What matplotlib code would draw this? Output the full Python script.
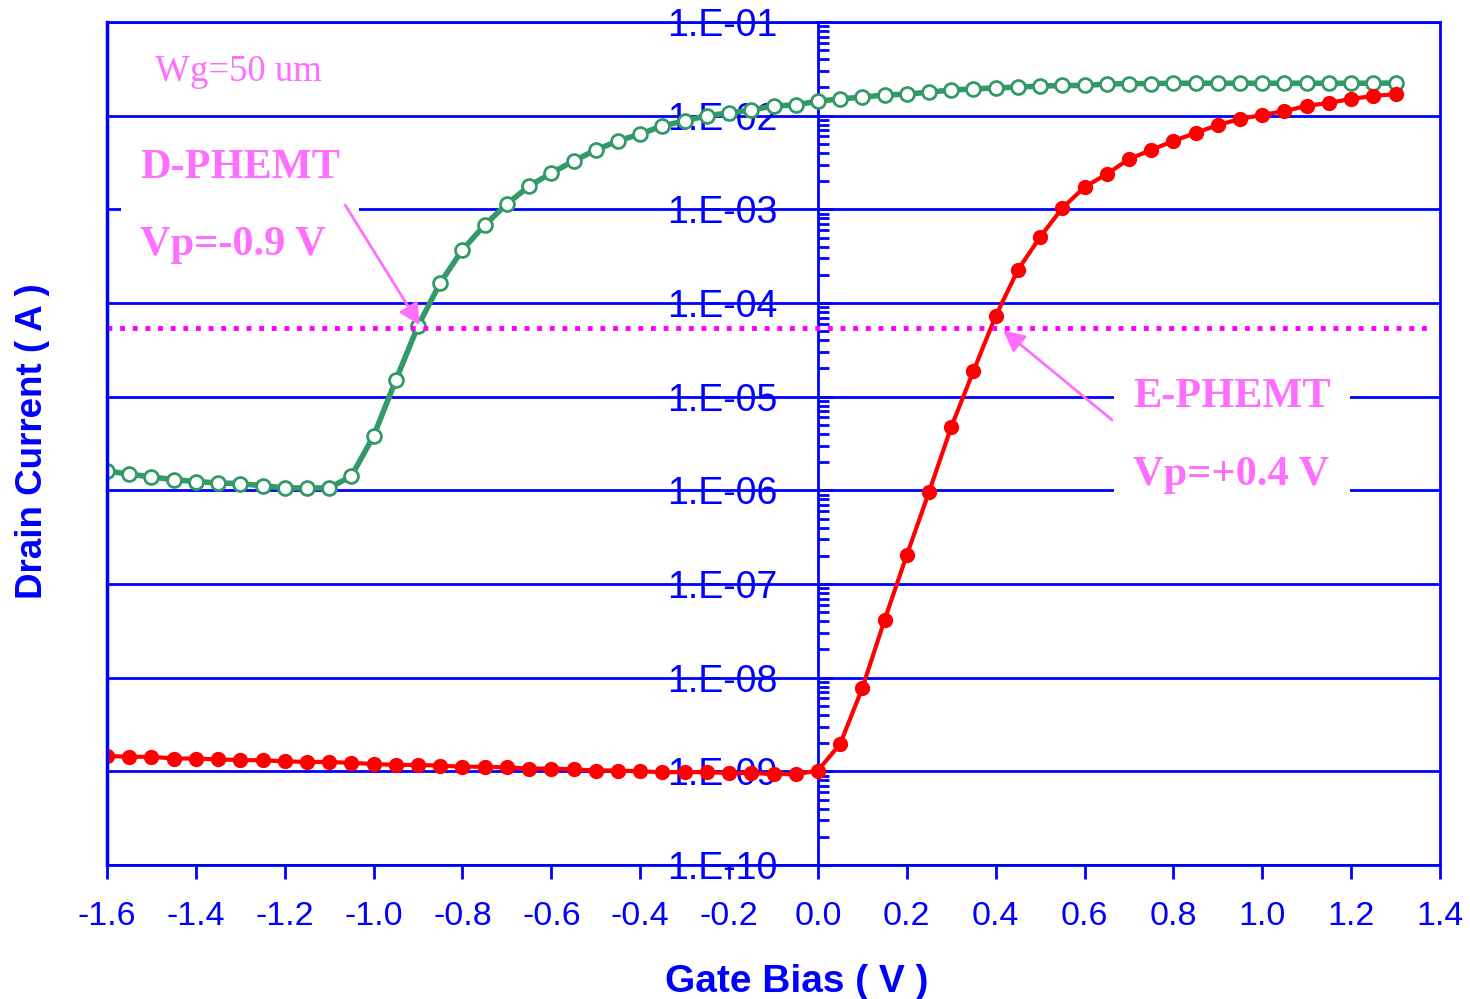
import numpy as np
import matplotlib
matplotlib.use("Agg")
import matplotlib.pyplot as plt
from matplotlib.ticker import FixedLocator, FuncFormatter, LogLocator, NullFormatter

# ---------------- data ----------------
gate_bias = [round(-1.6 + 0.05 * i, 2) for i in range(59)]  # -1.60 ... 1.30

d_phemt = [1.61e-6, 1.49e-6, 1.39e-6, 1.30e-6, 1.24e-6, 1.20e-6, 1.18e-6, 1.12e-6,
           1.06e-6, 1.06e-6, 1.06e-6, 1.42e-6, 3.8e-6, 1.5e-5, 5.7e-5, 1.64e-4,
           3.7e-4, 6.8e-4, 1.14e-3, 1.77e-3, 2.44e-3, 3.28e-3, 4.3e-3, 5.37e-3,
           6.37e-3, 7.76e-3, 8.8e-3, 1.0e-2, 1.07e-2, 1.15e-2, 1.27e-2, 1.3e-2,
           1.43e-2, 1.51e-2, 1.58e-2, 1.66e-2, 1.70e-2, 1.78e-2, 1.88e-2, 1.93e-2,
           1.98e-2, 2.02e-2, 2.07e-2, 2.10e-2, 2.10e-2, 2.18e-2, 2.20e-2, 2.20e-2,
           2.22e-2, 2.22e-2, 2.22e-2, 2.22e-2, 2.22e-2, 2.22e-2, 2.22e-2, 2.22e-2,
           2.22e-2, 2.22e-2, 2.23e-2]

e_phemt = [1.46e-9, 1.43e-9, 1.43e-9, 1.37e-9, 1.37e-9, 1.34e-9, 1.32e-9, 1.31e-9,
           1.28e-9, 1.26e-9, 1.26e-9, 1.23e-9, 1.20e-9, 1.17e-9, 1.17e-9, 1.15e-9,
           1.12e-9, 1.12e-9, 1.10e-9, 1.07e-9, 1.07e-9, 1.05e-9, 1.02e-9, 1.02e-9,
           1.00e-9, 0.98e-9, 0.98e-9, 0.98e-9, 0.96e-9, 0.96e-9, 0.94e-9, 0.93e-9,
           1.02e-9, 1.96e-9, 7.76e-9, 4.13e-8, 2.04e-7, 9.6e-7, 4.74e-6, 1.88e-5,
           7.26e-5, 2.25e-4, 5.07e-4, 1.03e-3, 1.73e-3, 2.38e-3, 3.44e-3, 4.3e-3,
           5.37e-3, 6.53e-3, 7.95e-3, 9.2e-3, 1.02e-2, 1.12e-2, 1.27e-2, 1.37e-2,
           1.51e-2, 1.62e-2, 1.70e-2]

pinch_current = 5.4e-5
x_ticks = [-1.6, -1.4, -1.2, -1.0, -0.8, -0.6, -0.4, -0.2, 0.0, 0.2, 0.4, 0.6, 0.8, 1.0, 1.2, 1.4]
y_decades = [1e-10, 1e-9, 1e-8, 1e-7, 1e-6, 1e-5, 1e-4, 1e-3, 1e-2, 1e-1]

label_wg = "Wg=50 um"
label_d = "D-PHEMT\nVp=-0.9 V"
label_e = "E-PHEMT\nVp=+0.4 V"

# ---------------- style ----------------
BLUE = "#0000FF"
GREEN = "#339966"
RED = "#FF0000"
PINK = "#FF6FFF"
MAGENTA = "#FF00FF"

fig = plt.figure(figsize=(14.7, 9.99), dpi=100)
ax = fig.add_axes([107 / 1470, 1 - 865 / 999, (1440 - 107) / 1470, (865 - 22) / 999])

ax.set_yscale("log")
ax.set_xlim(-1.6, 1.4)
ax.set_ylim(1e-10, 1e-1)

# grid
ax.yaxis.grid(True, which="major", color=BLUE, lw=2, zorder=0)
ax.xaxis.grid(False)
ax.set_axisbelow(True)

# data
ax.plot(gate_bias, d_phemt, color=GREEN, lw=4, marker="o", ms=10, mfc="white",
        mec=GREEN, mew=2, zorder=3)
ax.plot(gate_bias, e_phemt, color=RED, lw=3, marker="o", ms=10, mfc=RED,
        mec=RED, zorder=3)

# pinch-off dotted line
ax.plot([-1.6, 1.38], [pinch_current, pinch_current], color=MAGENTA, lw=3.5,
        ls=(0, (1, 1.6)), zorder=4)

# spines
for s in ax.spines.values():
    s.set_color(BLUE)
    s.set_linewidth(2)
ax.spines["left"].set_position(("data", 0))
ax.axvline(-1.6, color=BLUE, lw=2.5, zorder=5, clip_on=False)

ax.yaxis.set_major_locator(FixedLocator(y_decades))
ax.yaxis.set_minor_locator(LogLocator(base=10, subs=np.arange(2, 10), numticks=20))
ax.yaxis.set_minor_formatter(NullFormatter())
ax.yaxis.set_major_formatter(FuncFormatter(lambda v, p: "1.E-%02d" % round(-np.log10(v))))
ax.tick_params(axis="y", which="major", direction="in", length=11, width=2, color=BLUE,
               labelcolor=BLUE, labelsize=27, pad=29, labelfontfamily="Liberation Sans")
ax.tick_params(axis="y", which="minor", direction="in", length=8, width=2, color=BLUE)

ax.xaxis.set_major_locator(FixedLocator(x_ticks))
ax.xaxis.set_major_formatter(FuncFormatter(lambda v, p: "%.1f" % v))
ax.tick_params(axis="x", which="major", direction="out", length=10, width=2, color=BLUE,
               labelcolor=BLUE, labelsize=24.5, pad=16, labelfontfamily="Liberation Sans")
ax.tick_params(axis="x", which="minor", bottom=False)

# axis labels
fig.text(797 / 1470, 1 - 982 / 999, "Gate Bias ( V )", color=BLUE, fontsize=28,
         fontweight="bold", family="Liberation Sans", ha="center", va="center")
fig.text(33 / 1470, 1 - 441 / 999, "Drain Current ( A )", color=BLUE, fontsize=26.5,
         fontweight="bold", family="Liberation Sans", ha="center", va="center",
         rotation=90)

# annotations
ax.text(-1.492, 2.95e-2, label_wg, color=PINK, fontsize=26.5, family="Liberation Serif",
        ha="left", va="center", zorder=6)

box = dict(boxstyle="square,pad=0.45", fc="white", ec="none")
ax.text(-1.526, 1.08e-3, label_d, color=PINK, fontsize=30.5, fontweight="bold",
        family="Liberation Serif", ha="left", va="center", linespacing=2.35,
        bbox=box, zorder=6)
ax.text(0.709, 3.8e-6, label_e, color=PINK, fontsize=30.5, fontweight="bold",
        family="Liberation Serif", ha="left", va="center", linespacing=2.35,
        bbox=box, zorder=6)

arrow = dict(arrowstyle="-|>", color=PINK, lw=2, mutation_scale=32, shrinkA=0, shrinkB=0)
ax.annotate("", xy=(-0.896, 5.8e-5), xytext=(-1.064, 1.11e-3), textcoords="data",
            arrowprops=arrow, zorder=7)
ax.annotate("", xy=(0.417, 5.1e-5), xytext=(0.662, 5.64e-6), textcoords="data",
            arrowprops=arrow, zorder=7)

fig.savefig("out.png", dpi=100)
